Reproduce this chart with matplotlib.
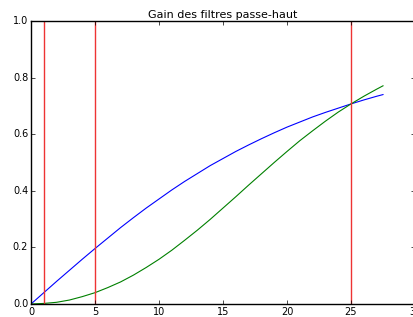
import matplotlib
matplotlib.use('Agg')
import matplotlib.pyplot as plt

plt.style.use('classic')

# valeurs
freq = [0, 1, 2, 3, 4, 5, 6, 7, 8, 9, 10, 11, 12, 13, 14, 15, 16, 17, 18, 19,
        20, 21, 22, 23, 24, 25, 26, 27, 27.5]
gain_ordre1 = [0.000, 0.040, 0.080, 0.119, 0.158, 0.196, 0.233, 0.270, 0.305,
               0.339, 0.371, 0.403, 0.433, 0.461, 0.489, 0.514, 0.539, 0.562,
               0.584, 0.605, 0.625, 0.643, 0.661, 0.677, 0.692, 0.707, 0.721,
               0.734, 0.740]
gain_ordre2 = [0.000, 0.002, 0.006, 0.014, 0.026, 0.040, 0.058, 0.078, 0.102,
               0.129, 0.158, 0.190, 0.225, 0.261, 0.299, 0.339, 0.379, 0.420,
               0.460, 0.500, 0.539, 0.577, 0.612, 0.646, 0.678, 0.707, 0.734,
               0.759, 0.771]
lignes_verticales = [1, 5, 25]

fig = plt.figure(figsize=(4.14, 3.17), dpi=100)
fig.patch.set_facecolor('white')
# l'axe droit tombe juste hors de l'image, comme sur l'original (le "30" est coupé)
ax = fig.add_axes([31 / 414, 13 / 317, 384 / 414, 283 / 317])

ax.plot(freq, gain_ordre1, color='b', linewidth=0.8)
ax.plot(freq, gain_ordre2, color='g', linewidth=0.8)
for xv in lignes_verticales:
    ax.axvline(xv, color='#ee3333', linewidth=1)

ax.set_xlim(0, 30)
ax.set_ylim(0, 1.0)
ax.set_title('Gain des filtres passe-haut', fontsize=8, pad=2)
ax.tick_params(labelsize=7, length=3, pad=2)

fig.savefig('out.png', dpi=100, facecolor='white')
